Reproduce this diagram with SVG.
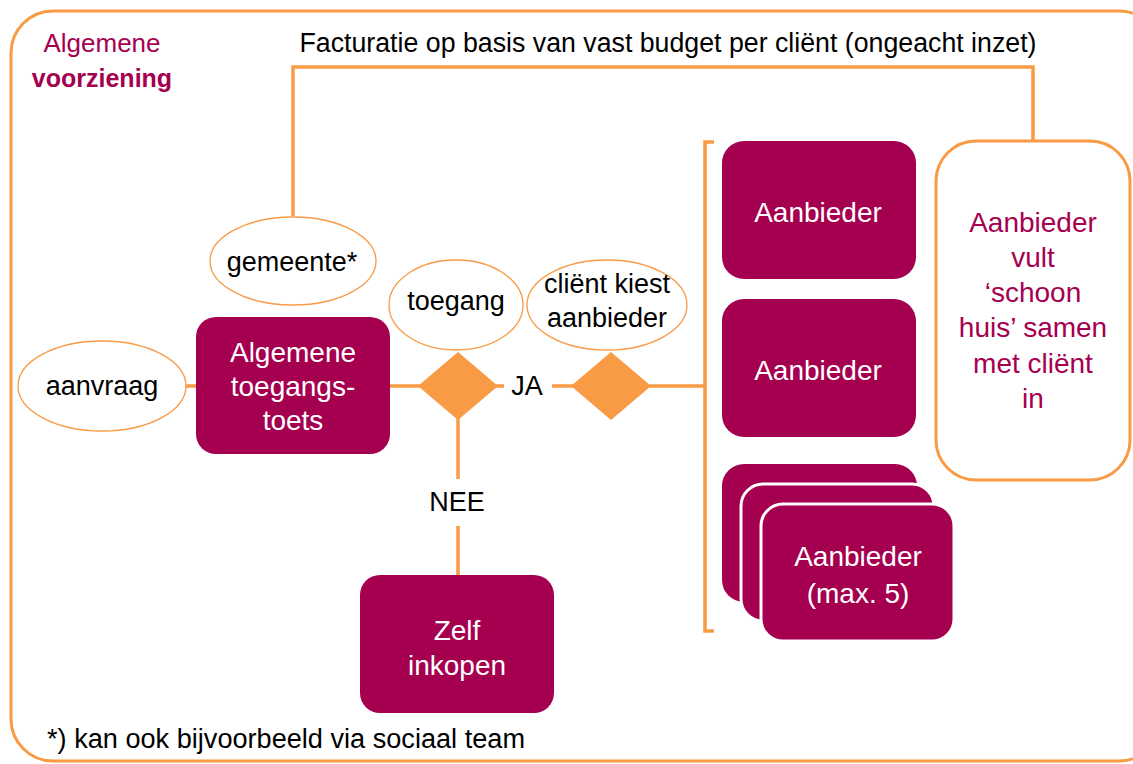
<svg xmlns="http://www.w3.org/2000/svg" width="1133" height="764" viewBox="0 0 1133 764">
<style>
.lbl{font-family:"Liberation Sans",Arial,sans-serif;font-size:27px;fill:#000;text-anchor:middle}
.wt{font-family:"Liberation Sans",Arial,sans-serif;font-size:28px;fill:#fff;text-anchor:middle}
.mg{font-family:"Liberation Sans",Arial,sans-serif;font-size:28px;fill:#A5004F;text-anchor:middle}
.box{fill:#A5004F}
.ell{fill:#fff;stroke:#F99A45;stroke-width:1.3}
.con{fill:none;stroke:#F99A45;stroke-width:3.5}
.dia{fill:#F99A45}
</style>
<rect width="1133" height="764" fill="#fff"/>
<rect id="frame" x="11" y="11" width="1150" height="750" rx="42" fill="none" stroke="#F99A45" stroke-width="3"/>
<g id="title">
<text x="102" y="52" font-family="'Liberation Sans',Arial,sans-serif" font-size="26" fill="#A5004F" text-anchor="middle">Algemene</text>
<text x="102" y="87" font-family="'Liberation Sans',Arial,sans-serif" font-size="25" font-weight="bold" fill="#A5004F" text-anchor="middle">voorziening</text>
</g>
<g id="connectors">
<polyline class="con" points="293,216 293,67 1033,67 1033,141"/>
<line class="con" x1="186" y1="386" x2="198" y2="386"/>
<line class="con" x1="388" y1="386" x2="420" y2="386"/>
<line class="con" x1="496" y1="386" x2="504" y2="386"/>
<line class="con" x1="552" y1="386" x2="573" y2="386"/>
<line class="con" x1="649" y1="386" x2="705" y2="386"/>
<polyline class="con" points="714,142 705,142 705,631 714,631"/>
<line class="con" x1="458" y1="418" x2="458" y2="479"/>
<line class="con" x1="458" y1="526" x2="458" y2="577"/>
</g>
<g id="facturatie"><text class="lbl" x="668" y="52" textLength="737" lengthAdjust="spacingAndGlyphs">Facturatie op basis van vast budget per cliënt (ongeacht inzet)</text></g>
<g id="gemeente"><ellipse class="ell" cx="293" cy="261" rx="83" ry="44"/><text class="lbl" x="292" y="271">gemeente*</text></g>
<g id="aanvraag"><ellipse class="ell" cx="102" cy="386" rx="84" ry="45"/><text class="lbl" x="102" y="395">aanvraag</text></g>
<g id="toegangstoets"><rect class="box" x="196" y="317" width="194" height="137" rx="20"/>
<text class="wt" x="293" y="362">Algemene</text><text class="wt" x="293" y="396">toegangs-</text><text class="wt" x="293" y="430">toets</text></g>
<g id="toegang"><ellipse class="ell" cx="456" cy="305" rx="67" ry="45"/><text class="lbl" x="456" y="310">toegang</text></g>
<g id="kiest"><ellipse class="ell" cx="607" cy="305" rx="80" ry="45"/><text class="lbl" x="607" y="293">cliënt kiest</text><text class="lbl" x="607" y="327">aanbieder</text></g>
<g id="diamond1"><polygon class="dia" points="418,386 458,352 498,386 458,420"/></g>
<g id="diamond2"><polygon class="dia" points="571,386 611,352 651,386 611,420"/></g>
<g id="ja"><text class="lbl" x="527" y="395">JA</text></g>
<g id="nee"><text class="lbl" x="457" y="511">NEE</text></g>
<g id="zelf"><rect class="box" x="360" y="575" width="194" height="138" rx="20"/>
<text class="wt" x="457" y="640">Zelf</text><text class="wt" x="457" y="675">inkopen</text></g>
<g id="aanbieder1"><rect class="box" x="722" y="141" width="194" height="138" rx="22"/><text class="wt" x="818" y="222">Aanbieder</text></g>
<g id="aanbieder2"><rect class="box" x="722" y="299" width="194" height="138" rx="22"/><text class="wt" x="818" y="380">Aanbieder</text></g>
<g id="aanbieder3">
<rect class="box" x="722" y="464" width="195" height="138" rx="22"/>
<rect class="box" x="741" y="484" width="193" height="137" rx="22" stroke="#fff" stroke-width="3"/>
<rect class="box" x="761" y="504" width="193" height="137" rx="22" stroke="#fff" stroke-width="3"/>
<text class="wt" x="858" y="566">Aanbieder</text><text class="wt" x="858" y="603">(max. 5)</text></g>
<g id="schoonhuis"><rect x="936" y="141" width="194" height="339" rx="40" fill="#fff" stroke="#F99A45" stroke-width="3"/>
<text class="mg" x="1033" y="232">Aanbieder</text><text class="mg" x="1033" y="267">vult</text><text class="mg" x="1033" y="302">‘schoon</text><text class="mg" x="1033" y="337">huis’ samen</text><text class="mg" x="1033" y="373">met cliënt</text><text class="mg" x="1033" y="408">in</text></g>
<g id="footnote"><text class="lbl" x="47" y="748" style="text-anchor:start" textLength="478" lengthAdjust="spacingAndGlyphs">*) kan ook bijvoorbeeld via sociaal team</text></g>
</svg>
